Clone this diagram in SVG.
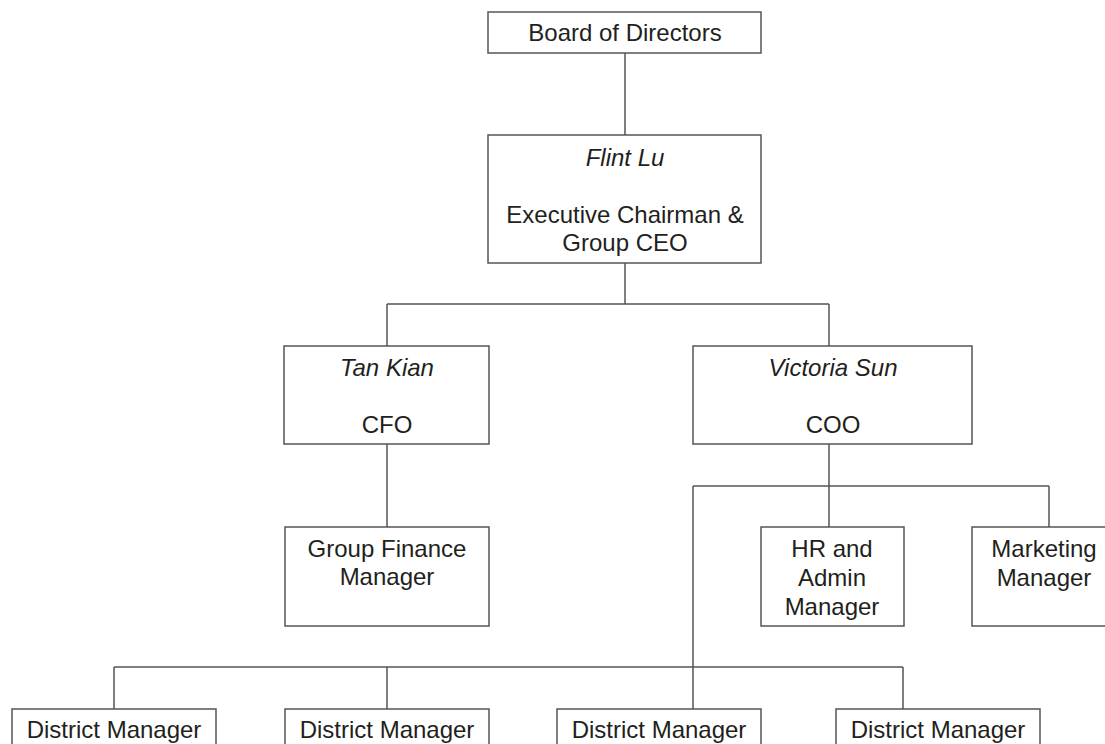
<svg xmlns="http://www.w3.org/2000/svg" width="1105" height="744" viewBox="0 0 1105 744">
<style>
.box{fill:#fff;stroke:#555;stroke-width:1.5}
.ln{fill:none;stroke:#555;stroke-width:1.5}
text{font-family:"Liberation Sans",Arial,sans-serif;font-size:24px;fill:#231f20;text-anchor:middle}
.it{font-style:italic}
</style>
<rect width="1105" height="744" fill="#fff"/>
<g id="connectors">
<path class="ln" d="M625 53V135"/>
<path class="ln" d="M625 263V304M387 304H829M387 304V346M829 304V346"/>
<path class="ln" d="M387 444V527"/>
<path class="ln" d="M829 444V486M693 486H1049M829 486V527M1049 486V527M693 486V709"/>
<path class="ln" d="M114 667H903M114 667V709M387 667V709M903 667V709"/>
</g>
<g id="board"><rect class="box" x="488" y="12" width="273" height="41"/><text x="625" y="41">Board of Directors</text></g>
<g id="ceo"><rect class="box" x="488" y="135" width="273" height="128"/><text class="it" x="625" y="166">Flint Lu</text><text x="625" y="223">Executive Chairman &amp;</text><text x="625" y="251">Group CEO</text></g>
<g id="cfo"><rect class="box" x="284" y="346" width="205" height="98"/><text class="it" x="387" y="376">Tan Kian</text><text x="387" y="433">CFO</text></g>
<g id="coo"><rect class="box" x="693" y="346" width="279" height="98"/><text class="it" x="833" y="376">Victoria Sun</text><text x="833" y="433">COO</text></g>
<g id="gfm"><rect class="box" x="285" y="527" width="204" height="99"/><text x="387" y="557">Group Finance</text><text x="387" y="585">Manager</text></g>
<g id="hr"><rect class="box" x="761" y="527" width="143" height="99"/><text x="832" y="557">HR and</text><text x="832" y="586">Admin</text><text x="832" y="615">Manager</text></g>
<g id="mkt"><rect class="box" x="972" y="527" width="146" height="99"/><text x="1044" y="557">Marketing</text><text x="1044" y="586">Manager</text></g>
<g id="dm1"><rect class="box" x="12" y="709" width="204" height="50"/><text x="114" y="738">District Manager</text></g>
<g id="dm2"><rect class="box" x="285" y="709" width="204" height="50"/><text x="387" y="738">District Manager</text></g>
<g id="dm3"><rect class="box" x="557" y="709" width="204" height="50"/><text x="659" y="738">District Manager</text></g>
<g id="dm4"><rect class="box" x="836" y="709" width="204" height="50"/><text x="938" y="738">District Manager</text></g>
</svg>
